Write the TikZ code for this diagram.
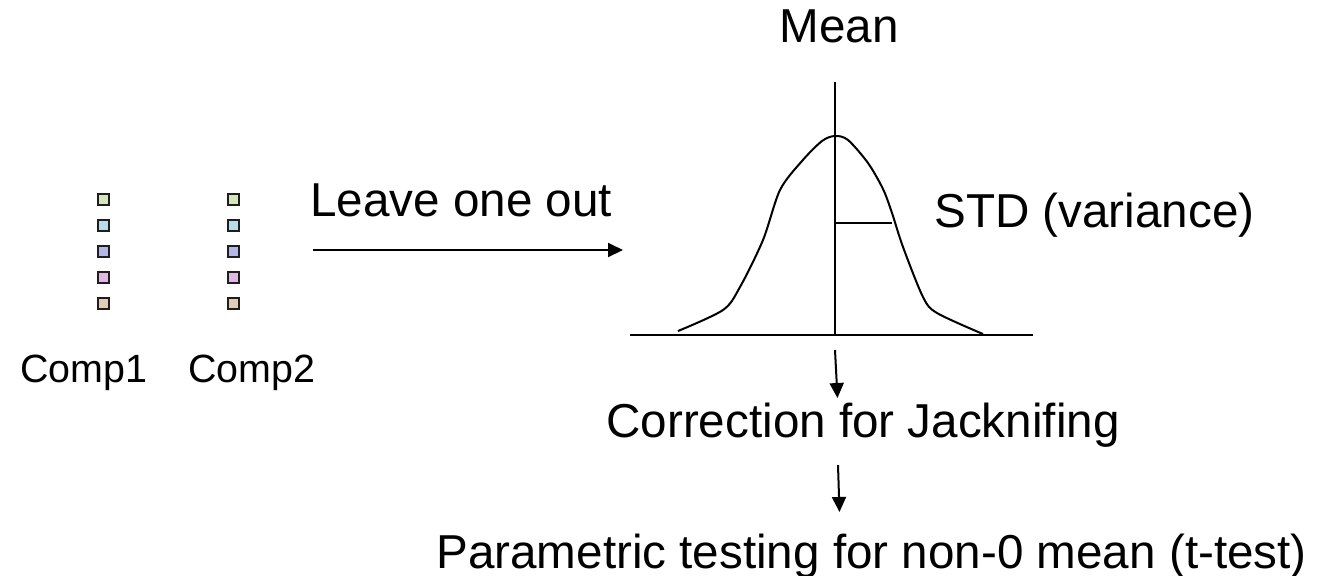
\documentclass[tikz,border=0pt]{standalone}
\usepackage{fontspec}
\setmainfont{Liberation Sans}
\usetikzlibrary{arrows.meta}
\definecolor{sqgreen}{RGB}{215,228,189}
\definecolor{sqcyan}{RGB}{183,222,232}
\definecolor{sqblue}{RGB}{182,182,230}
\definecolor{sqpink}{RGB}{222,186,226}
\definecolor{sqtan}{RGB}{224,205,186}
\definecolor{sqborder}{RGB}{30,30,30}
\tikzset{
  big/.style={font=\fontsize{23.8}{28}\selectfont, inner sep=0pt, anchor=base west},
  small/.style={font=\fontsize{19.7}{23}\selectfont, inner sep=0pt, anchor=base west},
  sq/.style={draw=sqborder, line width=1pt, minimum size=5.5pt, inner sep=0pt},
  ln/.style={line width=1pt},
  arr/.style={line width=1pt, -{Triangle[length=7.5pt,width=7pt]}},
}
\begin{document}
\begin{tikzpicture}[x=0.5pt,y=-0.5pt]
\useasboundingbox (0,0) rectangle (1324,575);
% squares
\foreach \c/\y [count=\i] in {sqgreen/199, sqcyan/225, sqblue/251, sqpink/277, sqtan/303}{
  \node[sq, fill=\c] (a\i) at (103,\y) {};
  \node[sq, fill=\c] (b\i) at (233,\y) {};
}
\node[small] (comp1) at (20,382) {Comp1};
\node[small] (comp2) at (188,382) {Comp2};
% leave one out
\node[big] (leave) at (310,216) {Leave one out};
\coordinate (arrS) at (313,250);
\coordinate (arrE) at (623,250);
\draw[arr] (arrS) -- (arrE);
% distribution
\coordinate (axL) at (630,335);
\coordinate (axR) at (1033,335);
\coordinate (mTop) at (835,82);
\coordinate (mBot) at (835,335);
\coordinate (sdL) at (835,223);
\coordinate (sdR) at (892,223);
\draw[ln] (axL) -- (axR);
\draw[ln] (mTop) -- (mBot);
\draw[ln] (sdL) -- (sdR);
\draw[ln, line join=round] plot[smooth, tension=0.5] coordinates {
 (678,331) (723,310) (740,287) (763,240) (780,190) (802,161) (822,141) (835,136)
 (848,140) (868,163) (883,189) (892,213) (903,247) (923,297) (937,313) (983,334)};
\node[big, anchor=base] (mean) at (839,42) {Mean};
\node[big] (std) at (934,227) {STD (variance)};
% lower chain
\node[big] (corr) at (606,437) {Correction for Jacknifing};
\node[big] (param) at (436,568) {Parametric testing for non-0 mean (t-test)};
\coordinate (d1s) at (835,350);
\coordinate (d1e) at (837.5,398);
\coordinate (d2s) at (838,465);
\coordinate (d2e) at (839.5,512);
\draw[arr] (d1s) -- (d1e);
\draw[arr] (d2s) -- (d2e);
\end{tikzpicture}
\end{document}
